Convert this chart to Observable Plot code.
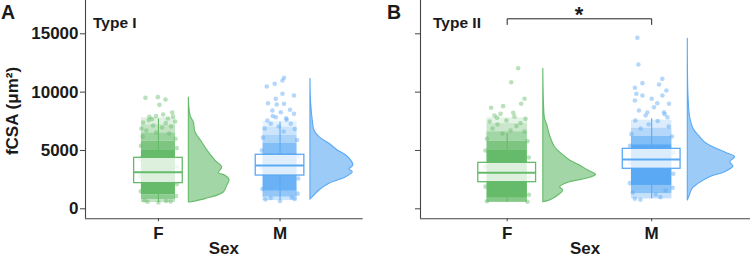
<!DOCTYPE html>
<html><head><meta charset="utf-8">
<script src="https://cdn.jsdelivr.net/npm/d3@7"></script>
<script src="https://cdn.jsdelivr.net/npm/@observablehq/plot@0.6"></script>
<style>
body{margin:0;background:#fff;}
#wrap{display:flex;width:750px;height:257px;overflow:hidden;}
svg{font-family:"Liberation Sans",Arial,Helvetica,sans-serif;}
</style></head><body><div id="wrap"></div>
<script>
const sexes = ["F", "M"];
const sexPos = {F: 1, M: 2};
const yTicks = [0, 5000, 10000, 15000];
const panelLetters = ["A", "B"];
const fiberTypes = ["Type I", "Type II"];
const xTitle = "Sex";
const yTitle = "fCSA (\u03bcm\u00b2)";
const sigLabel = "*";
const palette = ["#66bb6a", "#5aa9f4"];

// box stats: [lower whisker, Q1, median, Q3, upper whisker]
const boxTypeI = {F: [540, 2200, 3140, 4370, 7700], M: [770, 2850, 3710, 4630, 7420]};
const boxTypeII = {F: [570, 2280, 3080, 3940, 6430], M: [860, 3430, 4220, 5140, 7710]};

// half-violin outlines: [fCSA, density width]
const violinTypeI_F = [[9540,0],[7970,.014],[7400,.041],[6540,.055],[5680,.11],[4830,.164],[4110,.22],[3540,.274],[3060,.247],[2830,.30],[2460,.335],[1970,.315],[1400,.288],[830,.137],[540,.01]];
const violinTypeI_M = [[11140,0],[9000,.006],[7570,.019],[6710,.033],[6140,.074],[5570,.156],[5000,.225],[4570,.294],[4140,.335],[3710,.354],[3370,.321],[3140,.348],[2710,.294],[2140,.156],[1570,.074],[1140,.033],[860,.006],[770,0]];
const violinTypeII_F = [[12000,0],[8850,.005],[7710,.012],[7140,.028],[6280,.046],[5280,.081],[4710,.127],[4140,.185],[3710,.254],[3280,.311],[2910,.365],[2570,.298],[2280,.185],[1850,.116],[1570,.138],[1140,.104],[710,.046],[570,0]];
const violinTypeII_M = [[14570,0],[9570,.005],[7850,.016],[6860,.039],[6140,.085],[5570,.131],[5140,.2],[4770,.27],[4420,.327],[3990,.293],[3630,.316],[3140,.258],[2710,.154],[2140,.074],[1710,.033],[990,.009],[710,0]];

// dense part of the jittered point clouds: [low, high, relative density]
const cloudTypeI_F = [[540,800,.4],[800,1200,.75],[1200,5000,1],[5000,5800,.85],[5800,6500,.65],[6500,7200,.4],[7200,7800,.2]];
const cloudTypeI_M = [[700,1000,.3],[1000,1500,.65],[1500,4800,.9],[4800,5600,.75],[5600,6300,.5],[6300,7000,.3],[7000,7500,.15]];
const cloudTypeII_F = [[550,900,.8],[900,5000,1],[5000,5800,.85],[5800,6600,.6],[6600,7300,.35],[7300,7800,.18]];
const cloudTypeII_M = [[850,1300,.35],[1300,2000,.7],[2000,5500,1],[5500,6200,.75],[6200,6900,.45],[6900,7600,.22]];

// individually visible points: [jitter, fCSA]
const pointsTypeI_F = [[-.107,9510],[-.005,9570],[.058,9370],[.008,8910],[.113,8250],[-.074,7890],[.077,7740],[.137,7480],[-.126,7400],[-.044,7140],[.03,6970],[.104,7050],[-.1,6710],[-.019,6540],[.088,6450],[-.14,6880],[-.052,7700],[.039,8080],[-.115,710],[0,540],[.063,670],[-.13,6200],[.14,6000],[-.145,5400],[.15,5200],[-.15,4300],[.15,3600],[-.15,2800],[.15,2100],[-.145,1500],[.145,1100],[-.09,600],[.1,620],[.12,7900],[-.02,7950],[.06,7350],[-.08,7600]];
const pointsTypeI_M = [[.033,11230],[.02,11000],[-.044,10710],[-.109,10480],[-.099,9050],[-.035,9430],[.02,9860],[.115,9710],[-.027,8940],[.033,9000],[.082,8490],[-.063,8430],[.006,8280],[.115,8140],[-.104,7570],[-.035,7850],[.055,7630],[.088,7290],[-.076,7290],[-.126,6880],[-.011,7050],[.121,6840],[.03,6630],[-.076,930],[0,670],[.096,970],[-.14,6100],[.14,5900],[-.15,5000],[.15,4500],[-.15,3500],[.15,2600],[-.145,1700],[.145,1300],[-.12,800],[.12,850],[.05,7750],[-.06,7950]];
const pointsTypeII_F = [[.076,12050],[.028,10850],[.12,9430],[.097,9000],[-.111,8660],[-.028,8800],[-.088,8000],[-.046,8140],[.042,8230],[.127,7710],[-.005,7570],[-.122,7480],[-.067,7230],[.064,7100],[.092,7350],[-.101,6880],[.023,6710],[.12,6630],[-.033,6450],[-.14,6000],[.14,5800],[-.15,5000],[.15,4400],[-.15,3600],[.15,2700],[-.15,1900],[.15,1200],[-.14,650],[.14,600],[.05,7900],[-.07,7800]];
const pointsTypeII_M = [[-.099,14660],[-.092,12370],[.074,11140],[-.064,10770],[.051,10650],[-.116,10370],[.102,10140],[-.106,9860],[-.064,9710],[.074,9710],[0,9430],[-.116,9280],[.039,9050],[.12,9000],[-.088,8430],[.016,8710],[.085,8280],[-.042,8000],[.109,7850],[-.113,7570],[.042,7530],[-.021,7230],[.118,7050],[-.076,6880],[-.116,860],[-.078,770],[.097,1570],[.028,1230],[-.14,6400],[.14,6200],[-.15,5400],[.15,4800],[-.15,3900],[.15,3000],[-.15,2200],[.145,1800],[-.13,1400],[.06,1000],[.09,8100],[-.03,8250]];

// significance bracket (Type II): [sex, fCSA]
const bracketTypeII = [["F",15800],["F",16285],["M",16285],["M",15800]];

const xDomain = [0.4, 2.684];
const yDomain = [-857, 17854];

function panel(idx, cfg) {
  const violins = [];
  const clouds = [];
  const points = [];
  const boxes = [];
  for (const s of sexes) {
    cfg.violin[s].forEach(([v, w]) => violins.push({sex: s, v, w}));
    cfg.cloud[s].forEach(([lo, hi, d]) => clouds.push({sex: s, lo, hi, d}));
    cfg.points[s].forEach(([j, v]) => points.push({sex: s, j, v}));
    const b = cfg.box[s];
    boxes.push({sex: s, lo: b[0], q1: b[1], med: b[2], q3: b[3], hi: b[4]});
  }
  const P = d => sexPos[d.sex];
  const marks = [
    Plot.areaX(violins, {y: "v", x1: d => P(d) + 0.25, x2: d => P(d) + 0.25 + d.w, z: "sex",
      fill: "sex", fillOpacity: 0.6, stroke: "sex", strokeWidth: 1.1, curve: "catmull-rom"}),
    Plot.rect(clouds, {x1: d => P(d) - 0.14, x2: d => P(d) + 0.14, y1: "lo", y2: "hi",
      fill: "sex", fillOpacity: "d"}),
    Plot.dot(points, {x: d => P(d) + d.j, y: "v", r: 2.3, fill: "sex", fillOpacity: 0.45, stroke: "none"}),
    Plot.ruleX(boxes, {x: P, y1: "lo", y2: "q1", stroke: "sex", strokeWidth: 1.1}),
    Plot.ruleX(boxes, {x: P, y1: "q3", y2: "hi", stroke: "sex", strokeWidth: 1.1}),
    Plot.rect(boxes, {x1: d => P(d) - 0.2, x2: d => P(d) + 0.2, y1: "q1", y2: "q3",
      fill: "white", fillOpacity: 0.78, stroke: "sex", strokeWidth: 1.3}),
    Plot.ruleY(boxes, {y: "med", x1: d => P(d) - 0.2, x2: d => P(d) + 0.2, stroke: "sex", strokeWidth: 2}),
    Plot.ruleX([xDomain[0]], {stroke: "#444", strokeWidth: 1.1}),
    Plot.ruleY([yDomain[0]], {stroke: "#444", strokeWidth: 1.1}),
    Plot.axisY(yTicks, {tickSize: 5, tickPadding: 2, fontSize: 17, fontWeight: "bold", fill: "#1a1a1a",
      stroke: "#444", label: null, tickFormat: cfg.yLabels ? (d => String(d)) : (() => "")}),
    Plot.axisX([1, 2], {tickSize: 3, tickPadding: 5, fontSize: 17, fontWeight: "bold", fill: "#1a1a1a",
      stroke: "#444", label: null, tickFormat: d => sexes[d - 1]})
  ];
  if (cfg.bracket) {
    marks.push(Plot.line(cfg.bracket.map(([s, v]) => ({x: sexPos[s], v})), {x: "x", y: "v", stroke: "#222", strokeWidth: 1}));
  }
  const chart = Plot.plot({
    width: cfg.width, height: 257,
    marginLeft: cfg.ml, marginRight: cfg.mr, marginTop: 0, marginBottom: 38.7,
    style: {fontFamily: '"Liberation Sans",Arial,sans-serif', background: "transparent", overflow: "visible"},
    x: {domain: xDomain, axis: null},
    y: {domain: yDomain, axis: null},
    color: {domain: sexes, range: palette},
    opacity: {domain: [0, 1], range: [0, 0.75]},
    marks
  });
  const svg = d3.select(chart);
  const txt = (s, x, y, size, extra = {}) => {
    const t = svg.append("text").text(s).attr("x", x).attr("y", y)
      .attr("font-size", size).attr("font-weight", "bold").attr("fill", "#1a1a1a")
      .attr("text-anchor", "start");
    for (const k in extra) t.attr(k, extra[k]);
    return t;
  };
  txt(panelLetters[idx], cfg.letterX, 18.5, 19.5);
  txt(fiberTypes[idx], cfg.typeX, 28, 15.5);
  const xs = chart.scale("x");
  const cx = (xs.range[0] + xs.range[1]) / 2;
  txt(xTitle, cx, 253.5, 17, {"text-anchor": "middle"});
  if (cfg.yLabels) {
    txt(yTitle, 0, 0, 17, {"text-anchor": "middle", transform: "translate(18,111) rotate(-90)"});
  }
  if (cfg.bracket) {
    txt(sigLabel, xs.apply(1.5), 21.5, 22, {"text-anchor": "middle"});
  }
  return chart;
}

const wrap = document.getElementById("wrap");
wrap.appendChild(panel(0, {
  width: 380, ml: 85, mr: 17.3, yLabels: true, letterX: 1, typeX: 93,
  violin: {F: violinTypeI_F, M: violinTypeI_M},
  cloud: {F: cloudTypeI_F, M: cloudTypeI_M},
  points: {F: pointsTypeI_F, M: pointsTypeI_M},
  box: boxTypeI
}));
wrap.appendChild(panel(1, {
  width: 370, ml: 40, mr: 0, yLabels: false, letterX: 7, typeX: 53,
  violin: {F: violinTypeII_F, M: violinTypeII_M},
  cloud: {F: cloudTypeII_F, M: cloudTypeII_M},
  points: {F: pointsTypeII_F, M: pointsTypeII_M},
  box: boxTypeII,
  bracket: bracketTypeII
}));
</script></body></html>
